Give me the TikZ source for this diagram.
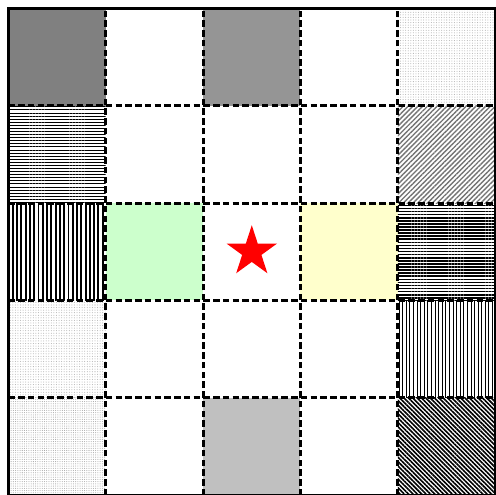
\documentclass[tikz,border=0pt]{standalone}
\usetikzlibrary{patterns.meta,shapes.geometric}
\definecolor{dkgray}{RGB}{128,128,128}
\definecolor{midgray}{RGB}{149,149,149}
\definecolor{ltgray}{RGB}{192,192,192}
\definecolor{ltgreen}{RGB}{204,255,204}
\definecolor{ltyellow}{RGB}{255,255,204}
\newcommand\gridcell[3]{\path[#3] (2*#2,8-2*#1) rectangle ++(2,2);}
\begin{document}
\begin{tikzpicture}[
  gridline/.style={line width=1.75pt, dash pattern=on 3.8pt off 1.9pt},
  frame/.style={line width=1.75pt},
  hlinesthin/.style={pattern={Lines[angle=0,distance=1.8pt,line width=0.45pt]}, pattern color=black},
  hlinesthick/.style={pattern={Lines[angle=0,distance=1.8pt,line width=0.95pt]}, pattern color=black},
  vlinesthick/.style={pattern={Lines[angle=90,distance=2.5pt,line width=1.1pt]}, pattern color=black},
  vlinesthin/.style={pattern={Lines[angle=90,distance=2.1pt,line width=0.45pt]}, pattern color=black},
  nelines/.style={pattern={Lines[angle=45,distance=2pt,line width=0.8pt]}, pattern color=gray!90!black},
  nwlines/.style={pattern={Lines[angle=-45,distance=1.8pt,line width=0.95pt]}, pattern color=black},
  lightdots/.style={pattern={Dots[distance=1.5pt,radius=0.3pt]}, pattern color=gray!60},
  lightdotsb/.style={pattern={Dots[distance=1.3pt,radius=0.3pt]}, pattern color=gray!70},
]
\useasboundingbox (-0.17,0.006) rectangle (9.994,10.17);
\fill[white] (-0.17,0.006) rectangle (9.994,10.17);
% row 0
\gridcell{0}{0}{fill=dkgray}
\gridcell{0}{2}{fill=midgray}
\gridcell{0}{4}{lightdots}
% row 1
\gridcell{1}{0}{hlinesthin}
\gridcell{1}{4}{nelines}
% row 2
\gridcell{2}{0}{vlinesthick}
\gridcell{2}{1}{fill=ltgreen}
\gridcell{2}{3}{fill=ltyellow}
\gridcell{2}{4}{hlinesthick}
% row 3
\gridcell{3}{0}{lightdots}
\gridcell{3}{4}{vlinesthin}
% row 4
\gridcell{4}{0}{lightdotsb}
\gridcell{4}{2}{fill=ltgray}
\gridcell{4}{4}{nwlines}
% grid lines
\foreach \k in {1,2,3,4} {
  \draw[gridline] (2*\k,0) -- (2*\k,10);
  \draw[gridline] (0,2*\k) -- (10,2*\k);
}
\draw[frame] (0,0) rectangle (10,10);
% star
\node[star, star points=5, star point ratio=2.618, fill=red, inner sep=0pt, minimum size=1.09cm] (goal) at (5,5) {};
\end{tikzpicture}
\end{document}
